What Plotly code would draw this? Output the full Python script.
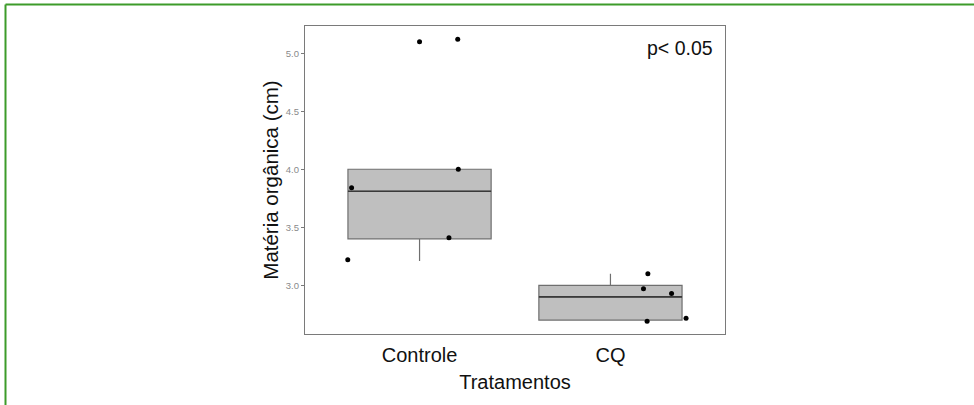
import plotly.graph_objects as go

# Treatments and summary statistics of the boxes
tratamentos = ["Controle", "CQ"]
q1 = [3.40, 2.70]
mediana = [3.81, 2.90]
q3 = [4.00, 3.00]
whisker_inf = [3.21, 2.70]
whisker_sup = [4.00, 3.10]

# Individual observations (jittered horizontally around each treatment)
obs_grupo = [0, 0, 0, 0, 0, 0, 1, 1, 1, 1, 1]
obs_jitter = [-0.376, -0.356, 0.0, 0.200, 0.203, 0.154, 0.196, 0.173, 0.320, 0.192, 0.396]
obs_valor = [3.22, 3.84, 5.10, 5.12, 4.00, 3.41, 3.10, 2.97, 2.93, 2.69, 2.715]

y_ticks = [3.0, 3.5, 4.0, 4.5, 5.0]

FONT = "Liberation Sans, Arial, sans-serif"
BOX_W = 0.75

fig = go.Figure()

for i, nome in enumerate(tratamentos):
    fig.add_trace(go.Box(
        x=[i], q1=[q1[i]], median=[mediana[i]], q3=[q3[i]],
        lowerfence=[whisker_inf[i]], upperfence=[whisker_sup[i]],
        width=BOX_W, fillcolor="#bfbfbf",
        line=dict(color="#6f6f6f", width=1.2),
        whiskerwidth=0, boxpoints=False, name=nome, showlegend=False,
        hoverinfo="skip",
    ))
    # darker median bar
    fig.add_trace(go.Scatter(
        x=[i - BOX_W / 2, i + BOX_W / 2], y=[mediana[i], mediana[i]],
        mode="lines", line=dict(color="#3a3a3a", width=1.6),
        showlegend=False, hoverinfo="skip",
    ))

fig.add_trace(go.Scatter(
    x=[g + j for g, j in zip(obs_grupo, obs_jitter)], y=obs_valor,
    mode="markers", marker=dict(color="black", size=5),
    showlegend=False,
))

fig.add_annotation(
    text="p< 0.05", xref="paper", yref="paper", x=0.975, y=0.97,
    xanchor="right", yanchor="top", showarrow=False,
    font=dict(family=FONT, size=19.5, color="#111111"),
)

# frame lines along the top and left edges of the page
L, R, T, B = 305, 249, 26, 71
W, H = 974, 405
pw, ph = W - L - R, H - T - B
def px_x(p):
    return (p - L) / pw
def px_y(p):
    return (H - B - p) / ph
fig.add_shape(type="line", xref="paper", yref="paper",
              x0=px_x(5.5), x1=px_x(990), y0=px_y(4.5), y1=px_y(4.5),
              line=dict(color="#3d9b2a", width=2))
fig.add_shape(type="line", xref="paper", yref="paper",
              x0=px_x(5.5), x1=px_x(5.5), y0=px_y(4.5), y1=px_y(420),
              line=dict(color="#3d9b2a", width=2))

fig.update_layout(
    width=W, height=H,
    margin=dict(l=L, r=R, t=T, b=B),
    paper_bgcolor="white", plot_bgcolor="white",
    font=dict(family=FONT),
    showlegend=False,
    xaxis=dict(
        range=[-0.6, 1.6], tickvals=[0, 1], ticktext=tratamentos,
        showgrid=False, zeroline=False,
        showline=True, mirror=True, linecolor="#7a7a7a", linewidth=1.2,
        ticks="outside", ticklen=3, tickcolor="rgba(0,0,0,0)",
        tickfont=dict(family=FONT, size=20, color="#111111"),
        title=dict(text="Tratamentos", standoff=9,
                   font=dict(family=FONT, size=20, color="#111111")),
    ),
    yaxis=dict(
        range=[2.58, 5.235], tickvals=y_ticks,
        ticktext=[f"{v:.1f}" for v in y_ticks],
        showgrid=False, zeroline=False,
        showline=True, mirror=True, linecolor="#7a7a7a", linewidth=1.2,
        ticks="outside", ticklen=3, tickcolor="#7a7a7a",
        tickfont=dict(family=FONT, size=9.5, color="#8a8a8a"),
        title=dict(text="Matéria orgânica (cm)", standoff=1,
                   font=dict(family=FONT, size=20.5, color="#111111")),
    ),
)

fig.write_html("out.html")
